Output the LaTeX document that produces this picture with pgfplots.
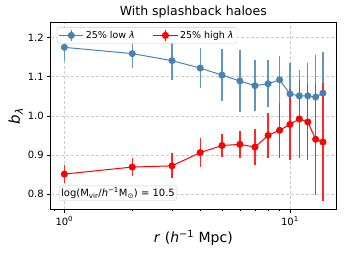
\documentclass[border=0pt]{standalone}
\usepackage{pgfplots}
\pgfplotsset{compat=1.18}
\usepackage{fontspec}
\setmainfont{DejaVu Sans}
\definecolor{sblue}{HTML}{4682B4}
\definecolor{sred}{HTML}{FF0000}
\begin{document}
\begin{tikzpicture}
\begin{axis}[
  anchor=south west, at={(0,0)},
  scale only axis, width=285.3pt, height=186.6pt,
  xmode=log, xmin=0.87, xmax=16.0,
  ymin=0.761, ymax=1.238,
  xtick={1,10}, xticklabels={10\textsuperscript{0},10\textsuperscript{1}},
  minor xtick={0.9,2,3,4,5,6,7,8,9,20},
  ytick={0.8,0.9,1.0,1.1,1.2},
  yticklabel style={/pgf/number format/fixed,/pgf/number format/fixed zerofill,/pgf/number format/precision=1},
  /pgf/number format/assume math mode=true,
  tick align=outside, tick pos=left,
  major tick length=3.5pt, minor tick length=2pt,
  every tick/.style={black, line width=0.6pt},
  grid=major,
  major grid style={densely dashed, gray!40, line width=0.5pt},
  axis line style={line width=0.9pt},
  ticklabel style={font=\fontsize{10}{12}\selectfont},
  title={With splashback haloes},
  title style={font=\fontsize{12.5}{14}\selectfont, yshift=-5pt},
  xlabel={\textit{r} (\textit{h}\textsuperscript{−1} Mpc)},
  xlabel style={font=\fontsize{14}{16}\selectfont, yshift=2pt},
  ylabel={\textit{b}\textsubscript{\textit{λ}}},
  ylabel style={font=\fontsize{15}{17}\selectfont, yshift=-2pt},
  legend columns=2,
  legend style={at={(rel axis cs:0.022,0.975)}, anchor=north west, font=\fontsize{9.5}{11}\selectfont,
    draw=gray!40, rounded corners=2pt, inner sep=1.5pt,
    /tikz/every even column/.append style={column sep=16pt}},
  legend image code/.code={
    \draw[#1, mark=none] (0cm,0cm) -- (0.85cm,0cm);
    \draw[#1, mark=none] (0.425cm,-0.2cm) -- (0.425cm,0.2cm);
    \draw[#1] plot coordinates {(0.425cm,0cm)};
  },
]
\addplot+[sblue, line width=1pt, mark=*, mark size=3pt, mark options={fill=sblue, draw=sblue},
  error bars/.cd, y dir=both, y explicit, error bar style={line width=1.3pt, sblue!85}, error mark=none]
  coordinates {
  (1,1.175) +- (0,0.034)
  (2,1.159) +- (0,0.037)
  (3,1.141) +- (0,0.050)
  (4,1.122) +- (0,0.052)
  (5,1.104) +- (0,0.067)
  (6,1.089) +- (0,0.079)
  (7,1.077) +- (0,0.065)
  (8,1.082) +- (0,0.060)
  (9,1.092) +- (0,0.060)
  (10,1.056) +- (0,0.079)
  (11,1.051) +- (0,0.066)
  (12,1.051) +- (0,0.084)
  (13,1.048) +- (0,0.108)
  (14,1.058) +- (0,0.106)
  };
\addlegendentry{25\% low \textit{λ}}
\addplot+[sred, line width=1pt, mark=*, mark size=3pt, mark options={fill=sred, draw=sred},
  error bars/.cd, y dir=both, y explicit, error bar style={line width=1.3pt, sred!85}, error mark=none]
  coordinates {
  (1,0.851) +- (0,0.024)
  (2,0.869) +- (0,0.022)
  (3,0.872) +- (0,0.032)
  (4,0.906) +- (0,0.037)
  (5,0.924) +- (0,0.029)
  (6,0.927) +- (0,0.035)
  (7,0.920) +- (0,0.045)
  (8,0.950) +- (0,0.058)
  (9,0.963) +- (0,0.070)
  (10,0.978) +- (0,0.090)
  (11,0.992) +- (0,0.100)
  (12,0.984) +- (0,0.098)
  (13,0.940) +- (0,0.142)
  (14,0.933) +- (0,0.152)
  };
\addlegendentry{25\% high \textit{λ}}
\node[anchor=south west, draw=gray!40, rounded corners=2pt, fill=white, inner sep=2pt,
  font=\fontsize{10}{12}\selectfont] at (rel axis cs:0.029,0.045)
  {log(M\textsubscript{vir}/\textit{h}\textsuperscript{−1}M\textsubscript{⊙}) = 10.5};
\end{axis}
\pgfresetboundingbox
\path[use as bounding box] (-50.7pt,-49.7pt) rectangle (295.3pt,209.3pt);
\end{tikzpicture}
\end{document}
